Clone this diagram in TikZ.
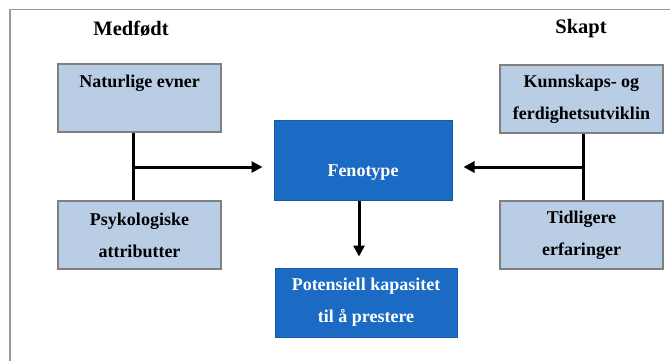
\documentclass[tikz,border=0pt]{standalone}
\usepackage{fontspec}
\setmainfont{Liberation Serif}
\usetikzlibrary{arrows.meta}
\definecolor{lysblaa}{HTML}{B9CDE5}
\definecolor{moerkblaa}{HTML}{1B6BC4}
\begin{document}
\begin{tikzpicture}[x=1pt, y=-1pt,
    faktor/.style={draw=black!50, line width=1.2pt, fill=lysblaa, inner sep=0pt,
        minimum width=163pt, minimum height=68pt, align=center,
        font=\bfseries\fontsize{18}{32}\selectfont},
    resultat/.style={draw=moerkblaa!85!black, line width=1pt, fill=moerkblaa, text=white, inner sep=0pt,
        align=center, font=\bfseries\fontsize{18}{32}\selectfont},
    overskrift/.style={font=\bfseries\fontsize{20.5}{24}\selectfont},
    pil/.style={line width=3pt, -{Triangle[length=11pt, width=11pt]}, shorten >=11pt},
    linje/.style={line width=3pt}]
            \useasboundingbox (0,0) rectangle (670,361);
            \draw [black!40, line width=1.5pt] (10,361) -- (10,9.5) -- (670,9.5);
            \node [overskrift] (medfoedt) at (131,29) {Medfødt};
            \node [overskrift] (skapt) at (581,29) {Skapt};
            \node [faktor, text height=12pt, text depth=33pt] (evner) at (139.5,98) {Naturlige evner};
            \node [faktor] (attributter) at (139.5,235) {Psykologiske\\attributter};
            \node [faktor] (utvikling) at (581.5,99) {Kunnskaps- og\\ferdighetsutviklin};
            \node [faktor] (erfaringer) at (581.5,235) {Tidligere\\erfaringer};
            \node [resultat, minimum width=178pt, minimum height=79pt, text height=31pt, text depth=0pt] (fenotype) at (363,160.5) {Fenotype};
            \node [resultat, minimum width=182pt, minimum height=69pt] (kapasitet) at (366,302.5) {Potensiell kapasitet\\til å prestere};
            \coordinate (venstre) at (133,167);
            \coordinate (hoeyre) at (583,167);
            \draw [linje] (evner.south -| venstre) -- (attributter.north -| venstre);
            \draw [linje] (utvikling.south -| hoeyre) -- (erfaringer.north -| hoeyre);
            \draw [pil] (venstre) -- (venstre -| fenotype.west);
            \draw [pil] (hoeyre) -- (hoeyre -| fenotype.east);
            \draw [pil] (fenotype.south -| 359,0) -- (kapasitet.north -| 359,0);
        \end{tikzpicture}
\end{document}
